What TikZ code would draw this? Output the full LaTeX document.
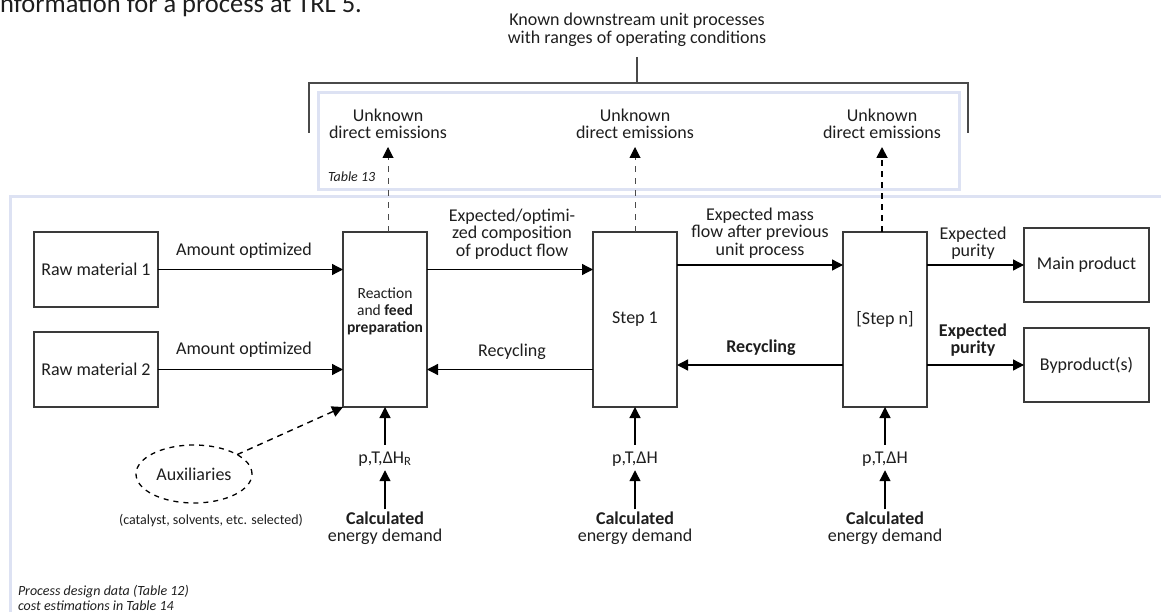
\documentclass[tikz,border=0pt]{standalone}
\usepackage{fontspec}
\setmainfont{Carlito}
\usetikzlibrary{arrows.meta,shapes.geometric}
\definecolor{txt}{HTML}{1E1E1E}
\definecolor{boxc}{HTML}{3A3A3A}
\definecolor{dgray}{HTML}{4A4A4A}
\definecolor{blu}{HTML}{DDE2F3}
\begin{document}
\begin{tikzpicture}[x=1pt,y=-1pt,
  every node/.style={text=txt,inner sep=0pt,outer sep=0pt},
  lbl/.style={font=\fontsize{18}{17.5}\selectfont,align=center},
  smallit/.style={font=\fontsize{14}{15}\selectfont\itshape},
  small/.style={font=\fontsize{14}{15}\selectfont},
  proc/.style={draw=boxc,line width=1.3pt,fill=white},
  arr/.style={draw=black,line width=1.3pt,-{Triangle[length=11pt,width=11pt]}},
  auxarr/.style={draw=black,line width=1.4pt,dash pattern=on 6pt off 5pt,-{Triangle[length=11pt,width=11pt]}},
  thindash/.style={draw=dgray,line width=1pt,dash pattern=on 6pt off 6pt,-{Triangle[length=11pt,width=11pt,color=black]}},
  thickdash/.style={draw=black,line width=1.8pt,dash pattern=on 6pt off 5pt,-{Triangle[length=11pt,width=11pt]}},
  frame/.style={draw=blu,line width=3pt},
  bracket/.style={draw=dgray,line width=1.2pt}
]
\useasboundingbox (0,0) rectangle (1161,612);

% partially visible heading
\node[anchor=base west,font=\fontsize{26.5}{30}\selectfont] (head) at (-6,13) {information for a process at TRL 5.};

% light frames
\draw[frame] (318,93) rectangle (959,190);
\draw[frame] (10,197) rectangle (1185,640);

% title and bracket
\node[lbl] (title) at (637,30) {Known downstream unit processes\\with ranges of operating conditions};
\coordinate (tb) at (637,57);
\coordinate (brk) at (637,83);
\coordinate (bl) at (309,83);
\coordinate (br) at (968,83);
\coordinate (bll) at (309,133);
\coordinate (brl) at (968,133);
\draw[bracket] (tb) -- (brk);
\draw[bracket] (bll) -- (bl) -- (br) -- (brl);

\node[smallit,anchor=west] (t13) at (328,177) {Table 13};

% process boxes
\node[proc,lbl,minimum width=124pt,minimum height=75pt] (r1) at (96,269.5) {Raw material 1};
\node[proc,lbl,minimum width=124pt,minimum height=75pt] (r2) at (96,369.5) {Raw material 2};
\node[proc,minimum width=84pt,minimum height=175pt] (re) at (385,319.5) {};
\node[font=\fontsize{15.5}{17}\selectfont,align=center] (ret) at (385,311) {Reaction\\and \textbf{feed}\\\textbf{preparation}};
\node[proc,lbl,minimum width=84pt,minimum height=175pt] (s1) at (635,319.5) {Step 1};
\node[proc,lbl,minimum width=84pt,minimum height=175pt] (sn) at (885,319.5) {[Step n]};
\node[proc,lbl,minimum width=125pt,minimum height=74pt] (mp) at (1086.5,265) {Main product};
\node[proc,lbl,minimum width=125pt,minimum height=74pt] (bp) at (1086.5,365) {Byproduct(s)};

% flows
\draw[arr] (r1.east) -- (r1.east -| re.west);
\draw[arr] (r2.east) -- (r2.east -| re.west);
\draw[arr] (re.east |- r1.east) -- (s1.west |- r1.east);
\draw[arr] (s1.east |- mp.west) -- (sn.west |- mp.west);
\draw[arr] (sn.east |- mp.west) -- (mp.west);
\draw[arr] (s1.west |- r2.east) -- (re.east |- r2.east);
\draw[arr] (sn.west |- bp.west) -- (s1.east |- bp.west);
\draw[arr] (sn.east |- bp.west) -- (bp.west);

% flow labels
\node[lbl] (l1) at (244,251) {Amount optimized};
\node[lbl] (l2) at (244,350) {Amount optimized};
\node[lbl] (l3) at (512,234) {Expected/optimi-\\zed composition\\of product flow};
\node[lbl] (l4) at (512,352) {Recycling};
\node[lbl] (l5) at (760,233) {Expected mass\\flow after previous\\unit process};
\node[lbl] (l6) at (761,348) {\textbf{Recycling}};
\node[lbl] (l7) at (973,243) {Expected\\purity};
\node[lbl] (l8) at (973,340) {\textbf{Expected}\\\textbf{purity}};

% emissions
\node[lbl] (u1) at (388,124) {Unknown\\direct emissions};
\node[lbl] (u2) at (635,124) {Unknown\\direct emissions};
\node[lbl] (u3) at (882,124) {Unknown\\direct emissions};
\coordinate (e1) at (388,147);
\coordinate (e2) at (635,147);
\coordinate (e3) at (882,147);
\draw[thindash] (e1 |- re.north) -- (e1);
\draw[thindash] (e2 |- s1.north) -- (e2);
\draw[thickdash] (e3 |- sn.north) -- (e3);

% energy
\node[lbl] (p1) at (385,459) {p,T,ΔH\textsubscript{R}};
\node[lbl] (p2) at (635,459) {p,T,ΔH};
\node[lbl] (p3) at (885,459) {p,T,ΔH};
\node[lbl] (c1) at (385,528) {\textbf{Calculated}\\energy demand};
\node[lbl] (c2) at (635,528) {\textbf{Calculated}\\energy demand};
\node[lbl] (c3) at (885,528) {\textbf{Calculated}\\energy demand};
\draw[arr,shorten <=7pt] (re.south |- p1.north) -- (re.south);
\draw[arr,shorten <=7pt] (s1.south |- p2.north) -- (s1.south);
\draw[arr,shorten <=7pt] (sn.south |- p3.north) -- (sn.south);
\draw[arr,shorten <=2pt,shorten >=4pt] (c1.north) -- (c1.north |- p1.south);
\draw[arr,shorten <=2pt,shorten >=4pt] (c2.north) -- (c2.north |- p2.south);
\draw[arr,shorten <=2pt,shorten >=4pt] (c3.north) -- (c3.north |- p3.south);

% auxiliaries
\node[ellipse,draw=black,line width=1.3pt,dash pattern=on 5pt off 5pt,lbl,minimum width=116pt,minimum height=58pt] (aux) at (194,474) {Auxiliaries};
\node[small] (auxn) at (211,521) {(catalyst, solvents, etc. selected)};
\draw[auxarr] (aux) -- (re.south west);

% notes
\node[smallit,anchor=west,align=left] (note) at (18,597.5) {Process design data (Table 12)\\cost estimations in Table 14};
\end{tikzpicture}
\end{document}
